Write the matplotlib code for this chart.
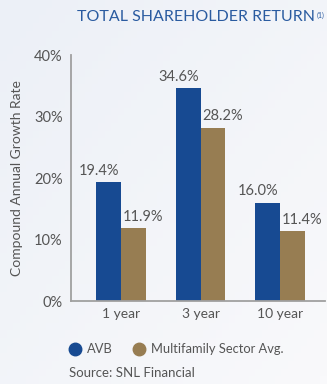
import matplotlib
matplotlib.use("Agg")
import matplotlib.pyplot as plt
import numpy as np
from matplotlib.lines import Line2D
from matplotlib.colors import LinearSegmentedColormap

categories = ["1 year", "3 year", "10 year"]
avb = [19.4, 34.6, 16.0]
sector = [11.9, 28.2, 11.4]
yticks = [0, 10, 20, 30, 40]

plt.rcParams['font.family'] = ['Lato', 'DejaVu Sans']
gray = "#555555"
c_avb = "#174a92"
c_sec = "#977d52"
bg = "#f3f5f9"

fig = plt.figure(figsize=(3.27, 3.84), dpi=100, facecolor=bg)
# subtle background gradient
bgax = fig.add_axes([0, 0, 1, 1], zorder=-10)
gx, gy = np.meshgrid(np.linspace(0, 1, 50), np.linspace(0, 1, 50))
grad = (gx + gy) / 2
cmap = LinearSegmentedColormap.from_list("bg", ["#ecf0f7", "#f9f9fb"])
bgax.imshow(grad, cmap=cmap, aspect="auto", extent=[0, 1, 0, 1], origin="upper")
bgax.axis("off")

ax = fig.add_axes([0.2171, 0.2161, 0.7768, 0.6406])
ax.patch.set_alpha(0)

x = np.arange(len(categories))
w = 0.314
ax.bar(x - w/2, avb, w, color=c_avb)
ax.bar(x + w/2, sector, w, color=c_sec)
for xi, v in zip(x, avb):
    ax.annotate(f"{v:.1f}%", (xi - w/2, v), xytext=(-7, 3), textcoords="offset points",
                ha="center", va="bottom", fontsize=10.5, color=gray)
for xi, v in zip(x, sector):
    ax.annotate(f"{v:.1f}%", (xi + w/2, v), xytext=(7, 3), textcoords="offset points",
                ha="center", va="bottom", fontsize=10.5, color=gray)

ax.set_xlim(-0.629, 2.566)
ax.set_ylim(0, 40)
ax.set_yticks(yticks)
ax.set_yticklabels([f"{t}%" for t in yticks], fontsize=10.5, color=gray)
ax.set_xticks(x)
ax.set_xticklabels(categories, fontsize=10, color=gray)
ax.tick_params(axis="y", length=0, pad=6)
ax.tick_params(axis="x", length=0, pad=5)
for s in ["top", "right"]:
    ax.spines[s].set_visible(False)
for s in ["left", "bottom"]:
    ax.spines[s].set_color("#a0a0a0")
    ax.spines[s].set_linewidth(1.3)
ax.set_ylabel("Compound Annual Growth Rate", fontsize=10, color=gray, labelpad=8)

title = fig.text(0.2355, 0.955, "TOTAL SHAREHOLDER RETURN", fontsize=11.5, color="#2a5ba0",
                 va="center", ha="left")
ax.annotate("(1)", xy=(1, 1), xycoords=title, xytext=(1, -1), textcoords="offset points",
            fontsize=5, color="#2a5ba0", ha="left", va="top", annotation_clip=False)

handles = [Line2D([], [], marker="o", linestyle="", markersize=9, color=c_avb),
           Line2D([], [], marker="o", linestyle="", markersize=9, color=c_sec)]
leg = fig.legend(handles, ["AVB", "Multifamily Sector Avg."], loc="center left",
                 bbox_to_anchor=(0.17, 0.091), ncol=2, frameon=False, fontsize=9.3,
                 handletextpad=0.3, columnspacing=1.5, handlelength=1.2)
for t in leg.get_texts():
    t.set_color(gray)
fig.text(0.21, 0.029, "Source: SNL Financial", fontsize=9.5, color=gray, va="center", ha="left")

fig.savefig("out.png", dpi=100, facecolor=bg)
